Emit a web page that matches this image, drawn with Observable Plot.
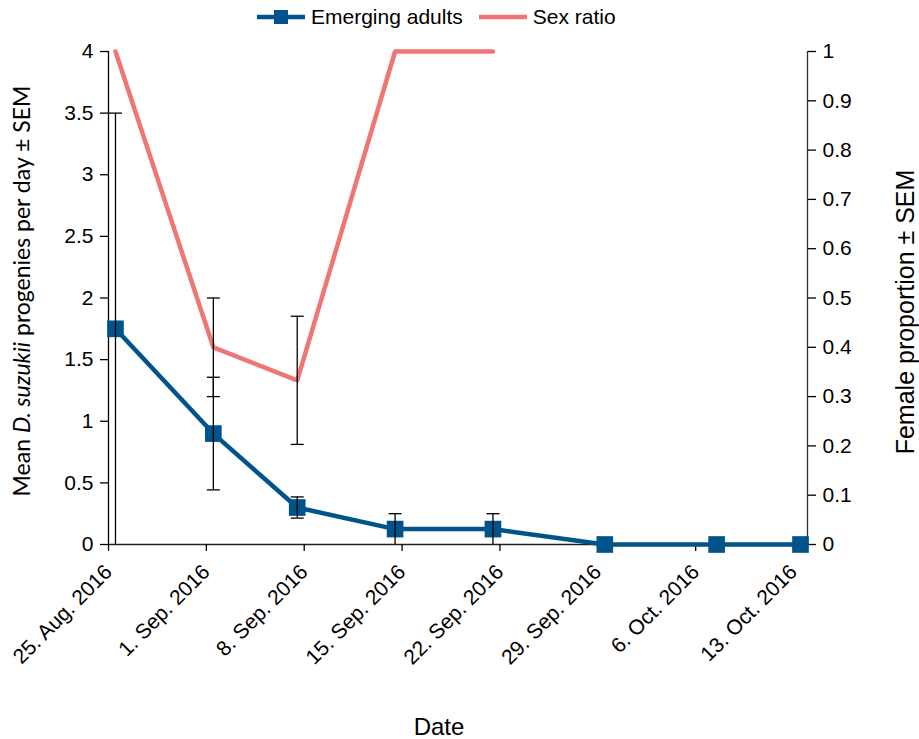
<!DOCTYPE html>
<html><head><meta charset="utf-8">
<script src="https://cdn.jsdelivr.net/npm/d3@7"></script>
<script src="https://cdn.jsdelivr.net/npm/@observablehq/plot@0.6"></script>
<style>
body{margin:0;background:#fff;font-family:"Liberation Sans",Arial,sans-serif}
#wrap{position:relative;width:919px;height:739px}
#legend{position:absolute;top:5px;left:257px;display:flex;align-items:center;font-size:21px;color:#000;white-space:nowrap}
#legend .item{display:flex;align-items:center;margin-right:16px}
#legend svg{margin-right:6px}
</style></head><body><div id="wrap"><div id="legend"></div></div>
<script>
// ---- data ----
const sampleDates = ["2016-08-25T12:00Z","2016-09-01T12:00Z","2016-09-07T12:00Z","2016-09-14T12:00Z","2016-09-21T12:00Z","2016-09-29T12:00Z","2016-10-07T12:00Z","2016-10-13T12:00Z"];
const emerging    = [1.75, 0.9, 0.3, 0.125, 0.125, 0, 0, 0];
const emergingSem = [1.75, 0.457, 0.086, 0.125, 0.125, 0, 0, 0];
const sexRatio    = [1, 0.4, 0.333, 1, 1, null, null, null];
const sexRatioSem = [0, 0.1, 0.13, 0, 0, null, null, null];
const tickDates = ["2016-08-25","2016-09-01","2016-09-08","2016-09-15","2016-09-22","2016-09-29","2016-10-06","2016-10-13"];
const xDomain = ["2016-08-25","2016-10-14"];
const monthLabels = ["Jan.","Feb.","Mar.","Apr.","May","Jun.","Jul.","Aug.","Sep.","Oct.","Nov.","Dec."];
const leftTicks = [0,0.5,1,1.5,2,2.5,3,3.5,4];
const rightTicks = [0,0.1,0.2,0.3,0.4,0.5,0.6,0.7,0.8,0.9,1];
const seriesNames = ["Emerging adults","Sex ratio"];
const seriesColors = ["#01538c","#f07575"];
const RIGHT_MAX = 1, LEFT_MAX = 4;
const k = LEFT_MAX / RIGHT_MAX;

const rows = sampleDates.map((d,i)=>({
  date: new Date(d),
  e: emerging[i], eLo: emerging[i]-emergingSem[i], eHi: emerging[i]+emergingSem[i], eSem: emergingSem[i],
  s: sexRatio[i]==null?null:sexRatio[i]*k,
  sLo: sexRatio[i]==null?null:(sexRatio[i]-sexRatioSem[i])*k,
  sHi: sexRatio[i]==null?null:(sexRatio[i]+sexRatioSem[i])*k,
  sSem: sexRatioSem[i]
}));
const eErr = rows.filter(r=>r.eSem>0);
const sErr = rows.filter(r=>r.sSem>0);
const capSymbol = {draw(ctx){ctx.moveTo(-6.5,0);ctx.lineTo(6.5,0);}};
const fmtDate = d => `${d.getUTCDate()}. ${monthLabels[d.getUTCMonth()]} ${d.getUTCFullYear()}`;

const plot = Plot.plot({
  width: 919, height: 739,
  marginLeft: 108, marginRight: 112, marginTop: 51, marginBottom: 195,
  style: {fontFamily: '"Liberation Sans", Arial, sans-serif', fontSize: "21px", color: "#000", background: "#fff"},
  x: {type: "utc", domain: xDomain.map(d=>new Date(d))},
  y: {domain: [0, LEFT_MAX]},
  marks: [
    Plot.ruleY([0], {stroke: "#222", strokeWidth: 1.3}),
    Plot.ruleX([new Date(xDomain[0])], {stroke: "#000", strokeWidth: 1.3}),
    Plot.ruleX([new Date(xDomain[1])], {stroke: "#333", strokeWidth: 1.3}),
    Plot.axisY({anchor: "left", ticks: leftTicks, tickFormat: d => String(d), tickSize: 8, tickPadding: 7, fontSize: 21, label: null, strokeWidth: 1.3}),
    Plot.axisY({anchor: "right", ticks: rightTicks.map(v=>v*k), tickFormat: d => String(+(d/k).toFixed(2)), tickSize: 8, tickPadding: 7, fontSize: 21, label: null, strokeWidth: 1.3}),
    Plot.axisX({ticks: tickDates.map(d=>new Date(d)), tickFormat: fmtDate, tickRotate: -45, tickSize: 7, tickPadding: 17, fontSize: 21, label: null, strokeWidth: 1.3}),
    Plot.line(rows.filter(r=>r.s!=null), {x: "date", y: "s", stroke: seriesColors[1], strokeWidth: 4.5, curve: "linear"}),
    Plot.line(rows, {x: "date", y: "e", stroke: seriesColors[0], strokeWidth: 4.5}),
    Plot.dot(rows, {x: "date", y: "e", symbol: "square", r: 9.4, fill: seriesColors[0], stroke: "none"}),
    Plot.ruleX(eErr, {x: "date", y1: "eLo", y2: "eHi", stroke: "#000", strokeWidth: 1.3}),
    Plot.dot(eErr, {x: "date", y: "eHi", symbol: capSymbol, stroke: "#000", strokeWidth: 1.3}),
    Plot.dot(eErr.filter(r=>r.eLo>0.001), {x: "date", y: "eLo", symbol: capSymbol, stroke: "#000", strokeWidth: 1.3}),
    Plot.ruleX(sErr, {x: "date", y1: "sLo", y2: "sHi", stroke: "#000", strokeWidth: 1.3}),
    Plot.dot(sErr, {x: "date", y: "sHi", symbol: capSymbol, stroke: "#000", strokeWidth: 1.3}),
    Plot.dot(sErr, {x: "date", y: "sLo", symbol: capSymbol, stroke: "#000", strokeWidth: 1.3}),
    Plot.text(["Date"], {frameAnchor: "bottom", dx: -19, dy: 190, fontSize: 24}),
    Plot.text(["Mean D. suzukii progenies per day ± SEM"], {frameAnchor: "left", textAnchor: "middle", rotate: -90, dx: -86, dy: -7, fontSize: 23, fontFamily: "Lato"}),
    Plot.text(["Female proportion ± SEM"], {frameAnchor: "right", textAnchor: "middle", rotate: -90, dx: 98, dy: 14, fontSize: 25})
  ]
});
document.getElementById("wrap").prepend(plot);

// italic species name in the left title
d3.select(plot).selectAll("text").each(function(){
  const t = d3.select(this);
  if (t.text() === "Mean D. suzukii progenies per day ± SEM") {
    t.text(null);
    t.append("tspan").text("Mean ");
    t.append("tspan").attr("font-style","italic").text("D. suzukii");
    t.append("tspan").text(" progenies per day ± SEM");
  }
});

// legend
const lg = d3.select("#legend");
seriesNames.forEach((name,i)=>{
  const it = lg.append("div").attr("class","item");
  const s = it.append("svg").attr("width",48).attr("height",20);
  s.append("line").attr("x1",0).attr("x2",48).attr("y1",10).attr("y2",10).attr("stroke",seriesColors[i]).attr("stroke-width",4.5);
  if (i===0) s.append("rect").attr("x",17).attr("y",3).attr("width",14).attr("height",14).attr("fill",seriesColors[i]);
  it.append("span").text(name);
});
</script></body></html>
